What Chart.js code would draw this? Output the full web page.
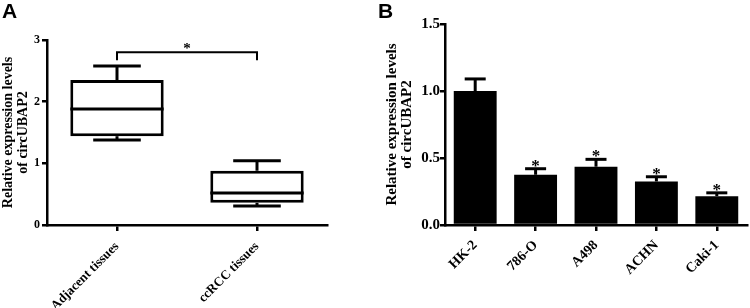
<!DOCTYPE html>
<html>
<head>
<meta charset="utf-8">
<script src="https://cdn.jsdelivr.net/npm/chart.js@4.4.0/dist/chart.umd.min.js"></script>
<style>
html, body { margin: 0; padding: 0; background: #fff; }
#wrap { position: relative; width: 750px; height: 308px; overflow: hidden; }
.panel { position: absolute; top: 0; width: 375px; height: 308px; }
.tag { position: absolute; top: -1px; font: bold 21px "Liberation Sans", Arial, sans-serif; color: #000; }
</style>
</head>
<body>
<div id="wrap">
  <div class="panel" style="left:0"><canvas id="chartA"></canvas></div>
  <div class="panel" style="left:375px"><canvas id="chartB"></canvas></div>
  <div class="tag" style="left:2px">A</div>
  <div class="tag" style="left:378px">B</div>
</div>
<script>
// panel A: box plot values (min, Q1, median, Q3, max)
const tissues = ['Adjacent tissues', 'ccRCC tissues'];
const minA = [1.38, 0.31];
const q1A = [1.44, 0.36];
const medA = [1.88, 0.52];
const q3A = [2.35, 0.88];
const maxA = [2.58, 1.04];
const ticksA = [0, 1, 2, 3];

// panel B: mean and error
const cellLines = ['HK-2', '786-O', 'A498', 'ACHN', 'Caki-1'];
const meanB = [1.0, 0.375, 0.435, 0.325, 0.215];
const errB = [0.09, 0.045, 0.055, 0.035, 0.025];
const sigB = ['', '*', '*', '*', '*'];
const ticksB = [0, 0.5, 1.0, 1.5];

const serif = "'Liberation Serif', 'Times New Roman', serif";
const yTitle = ['Relative expression levels', 'of circUBAP2'];

function line(ctx, x1, y1, x2, y2) {
    ctx.beginPath();
    ctx.moveTo(x1, y1);
    ctx.lineTo(x2, y2);
    ctx.stroke();
}

const boxPlugin = {
    id: 'boxPlugin',
    afterDatasetsDraw(chart) {
        const ctx = chart.ctx, x = chart.scales.x, y = chart.scales.y;
        const bars = chart.getDatasetMeta(0).data;
        const capHalf = x.width / tissues.length * 0.17;
        ctx.save();
        ctx.strokeStyle = '#000';
        ctx.lineWidth = 3;
        tissues.forEach((t, i) => {
            const cx = x.getPixelForValue(i);
            const half = bars[i].width / 2;
            const pMed = y.getPixelForValue(medA[i]);
            line(ctx, cx - half, pMed, cx + half, pMed);
            line(ctx, cx, y.getPixelForValue(q3A[i]), cx, y.getPixelForValue(maxA[i]));
            line(ctx, cx, y.getPixelForValue(q1A[i]), cx, y.getPixelForValue(minA[i]));
            line(ctx, cx - capHalf, y.getPixelForValue(maxA[i]), cx + capHalf, y.getPixelForValue(maxA[i]));
            line(ctx, cx - capHalf, y.getPixelForValue(minA[i]), cx + capHalf, y.getPixelForValue(minA[i]));
        });
        // significance bracket
        const x0 = x.getPixelForValue(0), x1 = x.getPixelForValue(1);
        const yb = y.getPixelForValue(2.8), yt = y.getPixelForValue(2.67);
        ctx.lineWidth = 2;
        ctx.beginPath();
        ctx.moveTo(x0, yt);
        ctx.lineTo(x0, yb);
        ctx.lineTo(x1, yb);
        ctx.lineTo(x1, yt);
        ctx.stroke();
        ctx.fillStyle = '#000';
        ctx.font = 'bold 15px ' + serif;
        ctx.textAlign = 'center';
        ctx.textBaseline = 'alphabetic';
        ctx.fillText('*', (x0 + x1) / 2, yb + 1);
        ctx.restore();
    }
};

const errPlugin = {
    id: 'errPlugin',
    afterDatasetsDraw(chart) {
        const ctx = chart.ctx, y = chart.scales.y;
        const bars = chart.getDatasetMeta(0).data;
        ctx.save();
        ctx.strokeStyle = '#000';
        ctx.fillStyle = '#000';
        ctx.lineWidth = 3;
        ctx.font = 'bold 17px ' + serif;
        ctx.textAlign = 'center';
        ctx.textBaseline = 'alphabetic';
        bars.forEach((bar, i) => {
            const top = y.getPixelForValue(meanB[i] + errB[i]);
            const half = bar.width * 0.245;
            line(ctx, bar.x, bar.y, bar.x, top);
            line(ctx, bar.x - half, top, bar.x + half, top);
            if (sigB[i]) ctx.fillText(sigB[i], bar.x, top + 2);
        });
        ctx.restore();
    }
};

const axisX = (size, pad) => ({
    grid: { display: true, drawOnChartArea: false, offset: false, tickLength: 6, lineWidth: 2.5, color: '#000' },
    border: { color: '#000', width: 2.5 },
    ticks: { color: '#000', font: { family: serif, weight: 'bold', size: size }, maxRotation: 45, minRotation: 45, autoSkip: false, padding: pad },
    afterFit(s) { s.height = 83; }
});

new Chart(document.getElementById('chartA'), {
    type: 'bar',
    data: {
        labels: tissues,
        datasets: [{
            data: tissues.map((t, i) => [q1A[i], q3A[i]]),
            backgroundColor: '#fff',
            borderColor: '#000',
            borderWidth: 3,
            borderSkipped: false,
            categoryPercentage: 1,
            barPercentage: 0.667
        }]
    },
    options: {
        responsive: true,
        maintainAspectRatio: false,
        animation: false,
        layout: { padding: { top: 40, right: 48, left: 0, bottom: 0 } },
        plugins: { legend: { display: false }, tooltip: { enabled: false } },
        scales: {
            x: axisX(13, 8),
            y: {
                min: 0, max: 3,
                afterBuildTicks(s) { s.ticks = ticksA.map(v => ({ value: v })); },
                grid: { display: true, drawOnChartArea: false, tickLength: 5, lineWidth: 2.5, color: '#000' },
                border: { color: '#000', width: 2.5 },
                ticks: { color: '#000', font: { family: serif, weight: 'bold', size: 12 }, padding: 2 },
                title: { display: true, text: yTitle, color: '#000', font: { family: serif, weight: 'bold', size: 14, lineHeight: 1.05 }, padding: { top: 1, bottom: 0 } },
                afterFit(s) { s.width = 47; }
            }
        }
    },
    plugins: [boxPlugin]
});

new Chart(document.getElementById('chartB'), {
    type: 'bar',
    data: {
        labels: cellLines,
        datasets: [{
            data: meanB,
            backgroundColor: '#000',
            borderWidth: 0,
            categoryPercentage: 1,
            barPercentage: 0.71
        }]
    },
    options: {
        responsive: true,
        maintainAspectRatio: false,
        animation: false,
        layout: { padding: { top: 24, right: 3, left: 0, bottom: 0 } },
        plugins: { legend: { display: false }, tooltip: { enabled: false } },
        scales: {
            x: axisX(14, 6),
            y: {
                min: 0, max: 1.5,
                afterBuildTicks(s) { s.ticks = ticksB.map(v => ({ value: v })); },
                grid: { display: true, drawOnChartArea: false, tickLength: 5, lineWidth: 2.5, color: '#000' },
                border: { color: '#000', width: 2.5 },
                ticks: { color: '#000', font: { family: serif, weight: 'bold', size: 15 }, padding: 0, callback: v => v.toFixed(1) },
                title: { display: true, text: yTitle, color: '#000', font: { family: serif, weight: 'bold', size: 15, lineHeight: 1.03 }, padding: { top: 9, bottom: 0 } },
                afterFit(s) { s.width = 70; }
            }
        }
    },
    plugins: [errPlugin]
});
</script>
</body>
</html>
